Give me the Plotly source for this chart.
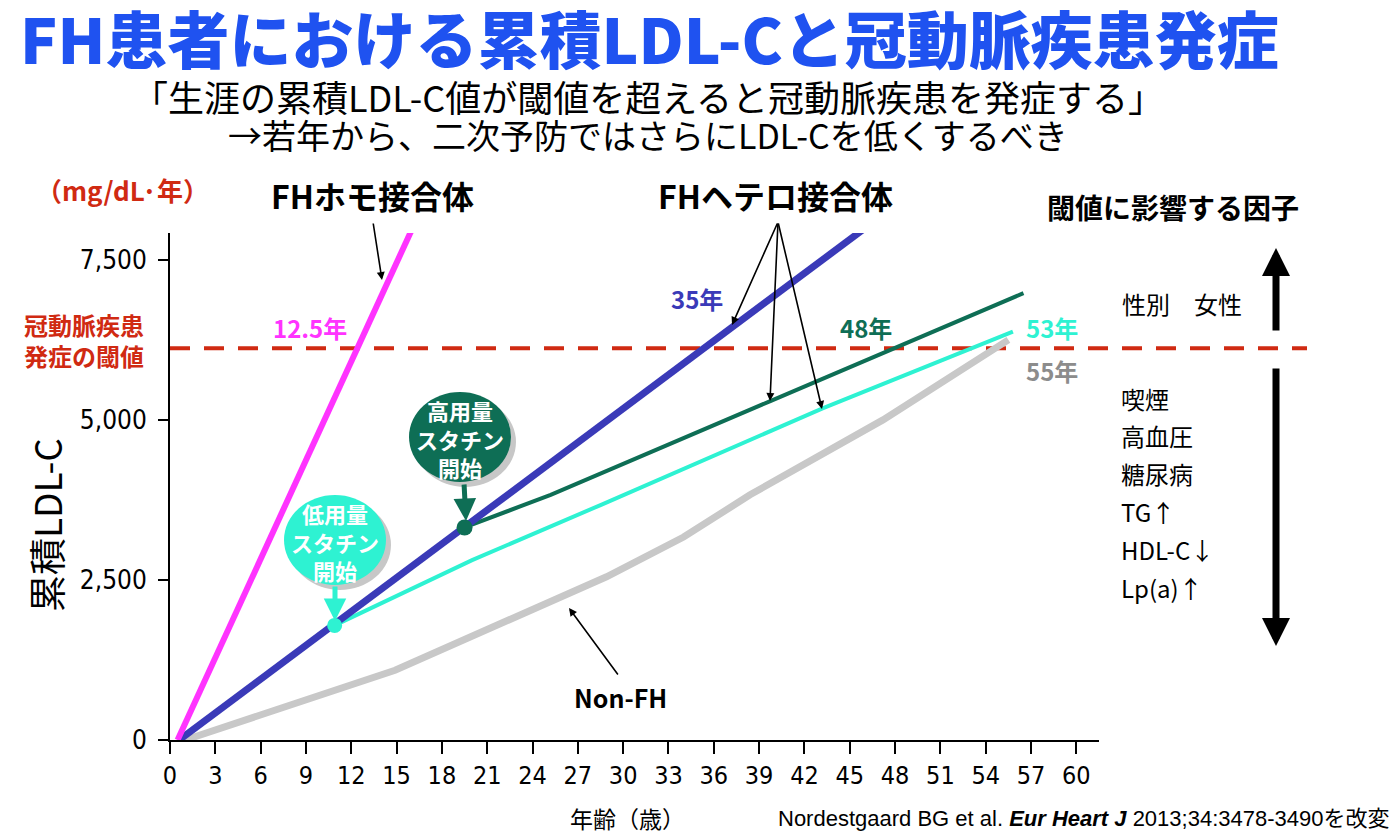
import plotly.graph_objects as go

# ---------------- data ----------------
age_ticks = list(range(0, 61, 3))
ldl_ticks = [0, 2500, 5000, 7500]
ldl_tick_labels = ["0", "2,500", "5,000", "7,500"]
threshold = 6120

homo_age = [0.5, 16.1]
homo_ldl = [0, 8020]
hetero_age = [0.6, 46.2]
hetero_ldl = [0, 8030]
high_age = [19.5, 25.2, 39.7, 56.5]
high_ldl = [3320, 3830, 5290, 6980]
low_age = [10.9, 20.0, 28.5, 43.2, 55.8]
low_ldl = [1790, 2810, 3670, 5180, 6380]
nonfh_age = [1.0, 14.9, 28.9, 34.0, 38.4, 47.2, 55.5]
nonfh_ldl = [0, 1090, 2550, 3170, 3830, 5000, 6250]

factors = ["喫煙", "高血圧", "糖尿病", "TG↑", "HDL-C↓", "Lp(a)↑"]

# ---------------- layout helpers ----------------
W, H = 1400, 840
L, R, T, B = 170, 1099, 233, 740
XMAX, YMAX = 61.5, 7920

def PX(x):
    return (x - L) / (R - L)

def PY(y):
    return (B - y) / (B - T)

JP = "Noto Sans CJK JP"
NUM = "DejaVu Sans Condensed, DejaVu Sans"

C_TITLE = "#1f52f0"
C_RED = "#d02a12"
C_MAG = "#ff33ff"
C_BLUE = "#3a3ab8"
C_GREEN = "#0e6e55"
C_CYAN = "#2ef2d2"
C_GRAY = "#c8c8c8"

fig = go.Figure()

fig.add_trace(go.Scatter(x=nonfh_age, y=nonfh_ldl, mode="lines",
                         line=dict(color=C_GRAY, width=7), hoverinfo="skip"))
fig.add_trace(go.Scatter(x=low_age, y=low_ldl, mode="lines",
                         line=dict(color=C_CYAN, width=4), hoverinfo="skip"))
fig.add_trace(go.Scatter(x=high_age, y=high_ldl, mode="lines",
                         line=dict(color=C_GREEN, width=4), hoverinfo="skip"))
fig.add_trace(go.Scatter(x=hetero_age, y=hetero_ldl, mode="lines",
                         line=dict(color=C_BLUE, width=7), hoverinfo="skip"))
fig.add_trace(go.Scatter(x=homo_age, y=homo_ldl, mode="lines",
                         line=dict(color=C_MAG, width=6), hoverinfo="skip"))
fig.add_trace(go.Scatter(x=[low_age[0]], y=[low_ldl[0]], mode="markers",
                         marker=dict(color=C_CYAN, size=15), hoverinfo="skip"))
fig.add_trace(go.Scatter(x=[high_age[0]], y=[high_ldl[0]], mode="markers",
                         marker=dict(color=C_GREEN, size=16), hoverinfo="skip"))

shapes = []
# threshold dashed line (extends past the plot to the right)
shapes.append(dict(type="line", xref="paper", yref="y", x0=0, x1=PX(1307),
                   y0=threshold, y1=threshold, layer="below",
                   line=dict(color=C_RED, width=4, dash="20px,14px")))

def bubble(cx, cy, rx, ry, color):
    shapes.append(dict(type="circle", xref="paper", yref="paper",
                       x0=PX(cx - rx + 5), x1=PX(cx + rx + 5),
                       y0=PY(cy + ry + 5), y1=PY(cy - ry + 5),
                       fillcolor="rgba(0,0,0,0.22)", line=dict(width=0), layer="above"))
    shapes.append(dict(type="circle", xref="paper", yref="paper",
                       x0=PX(cx - rx), x1=PX(cx + rx),
                       y0=PY(cy + ry), y1=PY(cy - ry),
                       fillcolor=color, line=dict(width=0), layer="above"))

bubble(460, 437, 51, 45, C_GREEN)
bubble(335, 540, 51, 45, C_CYAN)

ann = []

def text(x, y, s, size, color="black", bold=False, family=JP, xanchor="center",
         angle=0, align="center", yanchor="middle", weight=None):
    w = weight if weight else ("bold" if bold else "normal")
    ann.append(dict(x=PX(x), y=PY(y), xref="paper", yref="paper", text=s,
                    showarrow=False, xanchor=xanchor, yanchor=yanchor,
                    textangle=angle, align=align,
                    font=dict(size=size, color=color, family=family, weight=w)))

def arrow(hx, hy, tx, ty, color="black", width=1.6, head=2, size=1.0):
    ann.append(dict(x=PX(hx), y=PY(hy), xref="paper", yref="paper", text="",
                    showarrow=True, ax=tx - hx, ay=ty - hy, axref="pixel", ayref="pixel",
                    arrowcolor=color, arrowwidth=width, arrowhead=head,
                    arrowsize=size, standoff=0))

# titles
text(649, 37, "FH患者における累積LDL-Cと冠動脈疾患発症", 62, C_TITLE, weight=900)
text(648, 96, "「生涯の累積LDL-C値が閾値を超えると冠動脈疾患を発症する」", 36)
text(648, 135, "→若年から、二次予防ではさらにLDL-Cを低くするべき", 34)

# axis texts
text(122, 189, "（mg/dL·年）", 26, C_RED, True)
text(84, 340, "冠動脈疾患<br>発症の閾値", 24, C_RED, True)
text(46, 525, "累積LDL-C", 37, angle=-90)
text(627, 818, "年齢（歳）", 23)
text(1391, 818, "Nordestgaard BG et al. <b><i>Eur Heart J</i></b> 2013;34:3478-3490を改変",
     22, family="Liberation Sans Narrow, Liberation Sans, " + JP, xanchor="right")

# group labels and arrows
text(372, 195, "FHホモ接合体", 32, bold=True)
arrow(382, 280, 373, 222)
text(775, 195, "FHヘテロ接合体", 32, bold=True)
arrow(732, 325, 778, 222)
arrow(770, 401, 778, 222)
arrow(822, 409, 778, 222)
text(620, 697, "Non-FH", 25, bold=True)
arrow(569, 608, 619, 676)

# year labels
text(310, 327, "12.5年", 24, C_MAG, True)
text(697, 298, "35年", 24, C_BLUE, True)
text(866, 327, "48年", 24, C_GREEN, True)
text(1052, 327, "53年", 24, C_CYAN, True)
text(1052, 370, "55年", 24, "#8c8c8c", True)

# bubbles text
text(460, 438, "高用量<br>スタチン<br>開始", 22, "white", True)
text(335, 541, "低用量<br>スタチン<br>開始", 22, "white", True)
arrow(466, 521, 464, 483, C_GREEN, 5, 2, 0.9)
arrow(335, 621, 335, 585, C_CYAN, 5, 2, 0.9)

# right side
text(1173, 207, "閾値に影響する因子", 28, bold=True)
text(1182, 303, "性別　女性", 24)
arrow(1276, 248, 1276, 332, "black", 7, 2, 0.8)
arrow(1276, 646, 1276, 367, "black", 7, 2, 0.8)
for i, f in enumerate(factors):
    text(1119, 398 + i * 37.8, f, 24, xanchor="left")

fig.update_layout(
    width=W, height=H,
    margin=dict(l=L, r=W - R, t=T, b=H - B, autoexpand=False),
    paper_bgcolor="white", plot_bgcolor="white",
    showlegend=False,
    shapes=shapes, annotations=ann,
    xaxis=dict(range=[0, XMAX], tickvals=age_ticks, ticks="outside", ticklen=12,
               tickwidth=1.5, tickcolor="black", showline=True, linecolor="black",
               linewidth=2, showgrid=False, zeroline=False,
               tickfont=dict(family=NUM, size=25, color="black")),
    yaxis=dict(range=[0, YMAX], tickvals=ldl_ticks, ticktext=ldl_tick_labels,
               ticks="outside", ticklen=10, tickwidth=1.5, tickcolor="black",
               showline=True, linecolor="black", linewidth=2, showgrid=False,
               zeroline=False, ticklabelstandoff=6,
               tickfont=dict(family=NUM, size=26, color="black")),
)

fig.write_html("out.html", config={"displayModeBar": False},
               post_script="document.body.style.margin='0';")
